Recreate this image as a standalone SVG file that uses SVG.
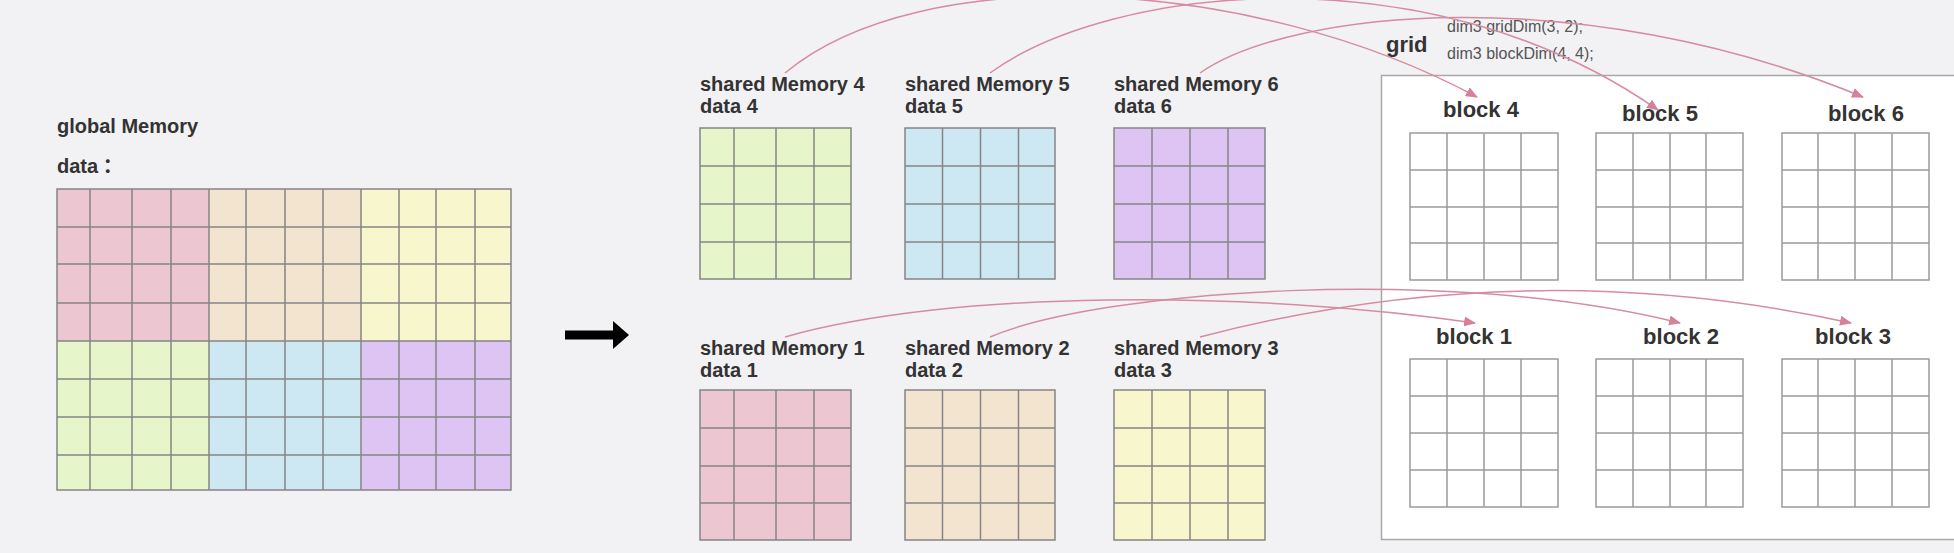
<svg xmlns="http://www.w3.org/2000/svg" width="1954" height="553" viewBox="0 0 1954 553">
<defs>
<style>
.lbl{font-family:"Liberation Sans",Arial,sans-serif;font-weight:bold;fill:#333333}
.code{font-family:"Liberation Sans",Arial,sans-serif;font-size:16px;fill:#555555}
.gl{fill:none;stroke:#858585;stroke-width:1.5}
.bg{fill:none;stroke:#9a9a9a;stroke-width:1.5}
.pink{fill:#ecc6d1}
.peach{fill:#f3e4d0}
.yellow{fill:#f7f6cd}
.green{fill:#e6f6ca}
.blue{fill:#cde8f3}
.purple{fill:#dec4f3}
.conn{fill:none;stroke:#d68ca0;stroke-width:1.5}
</style>
<marker id="ah" markerWidth="12" markerHeight="10" refX="11" refY="5" orient="auto" markerUnits="userSpaceOnUse">
<path d="M0,0 L12,5 L0,10 z" fill="#d6819a"/>
</marker>
</defs>
<rect x="0" y="0" width="1954" height="553" fill="#f2f1f3"/>

<g id="global-memory">
<text class="lbl" x="57" y="133" font-size="20">global Memory</text>
<text class="lbl" x="57" y="173" font-size="20">data<tspan font-family="'Noto Sans CJK SC',sans-serif"> ：</tspan></text>
<rect class="pink" x="57" y="189" width="152" height="152"/>
<rect class="peach" x="209" y="189" width="152" height="152"/>
<rect class="yellow" x="361" y="189" width="150" height="152"/>
<rect class="green" x="57" y="341" width="152" height="149"/>
<rect class="blue" x="209" y="341" width="152" height="149"/>
<rect class="purple" x="361" y="341" width="150" height="149"/>
<path class="gl" d="M90,189V490M132,189V490M171,189V490M209,189V490M246,189V490M285,189V490M323,189V490M361,189V490M399,189V490M436,189V490M475,189V490M57,227H511M57,264H511M57,303H511M57,341H511M57,379H511M57,417H511M57,455H511"/>
<rect class="gl" x="57" y="189" width="454" height="301"/>
</g>

<g id="transfer-arrow">
<rect x="565" y="330.5" width="49" height="9" fill="#000"/>
<path d="M613,321 L629,335 L613,349 z" fill="#000"/>
</g>

<g id="shared-memory-4">
<text class="lbl" x="700" y="91" font-size="20">shared Memory 4</text>
<text class="lbl" x="700" y="113" font-size="20">data 4</text>
<rect class="green" x="700" y="128" width="151" height="151"/>
<path class="gl" d="M734,128V279M776,128V279M814,128V279M700,166H851M700,204H851M700,242H851"/>
<rect class="gl" x="700" y="128" width="151" height="151"/>
</g>
<g id="shared-memory-5">
<text class="lbl" x="905" y="91" font-size="20">shared Memory 5</text>
<text class="lbl" x="905" y="113" font-size="20">data 5</text>
<rect class="blue" x="905" y="128" width="150" height="151"/>
<path class="gl" d="M942.5,128V279M980.5,128V279M1018.5,128V279M905,166H1055M905,204H1055M905,242H1055"/>
<rect class="gl" x="905" y="128" width="150" height="151"/>
</g>
<g id="shared-memory-6">
<text class="lbl" x="1114" y="91" font-size="20">shared Memory 6</text>
<text class="lbl" x="1114" y="113" font-size="20">data 6</text>
<rect class="purple" x="1114" y="128" width="151" height="151"/>
<path class="gl" d="M1152,128V279M1190,128V279M1228,128V279M1114,166H1265M1114,204H1265M1114,242H1265"/>
<rect class="gl" x="1114" y="128" width="151" height="151"/>
</g>
<g id="shared-memory-1">
<text class="lbl" x="700" y="355" font-size="20">shared Memory 1</text>
<text class="lbl" x="700" y="377" font-size="20">data 1</text>
<rect class="pink" x="700" y="390" width="151" height="150"/>
<path class="gl" d="M734,390V540M776,390V540M814,390V540M700,428H851M700,466H851M700,503H851"/>
<rect class="gl" x="700" y="390" width="151" height="150"/>
</g>
<g id="shared-memory-2">
<text class="lbl" x="905" y="355" font-size="20">shared Memory 2</text>
<text class="lbl" x="905" y="377" font-size="20">data 2</text>
<rect class="peach" x="905" y="390" width="150" height="150"/>
<path class="gl" d="M942.5,390V540M980.5,390V540M1018.5,390V540M905,428H1055M905,466H1055M905,503H1055"/>
<rect class="gl" x="905" y="390" width="150" height="150"/>
</g>
<g id="shared-memory-3">
<text class="lbl" x="1114" y="355" font-size="20">shared Memory 3</text>
<text class="lbl" x="1114" y="377" font-size="20">data 3</text>
<rect class="yellow" x="1114" y="390" width="151" height="150"/>
<path class="gl" d="M1152,390V540M1190,390V540M1228,390V540M1114,428H1265M1114,466H1265M1114,503H1265"/>
<rect class="gl" x="1114" y="390" width="151" height="150"/>
</g>

<g id="grid">
<text class="lbl" x="1386" y="52" font-size="22">grid</text>
<text class="code" x="1447" y="32">dim3 gridDim(3, 2);</text>
<text class="code" x="1447" y="59">dim3 blockDim(4, 4);</text>
<rect x="1381.5" y="75.5" width="600" height="464" fill="#ffffff" stroke="#a8a8a8" stroke-width="1.5"/>
</g>

<g id="block-4">
<text class="lbl" x="1481" y="117" font-size="22" text-anchor="middle">block 4</text>
<rect x="1410" y="133" width="148" height="147" fill="#fff"/>
<path class="bg" d="M1447,133V280M1484,133V280M1521,133V280M1410,170H1558M1410,207H1558M1410,243H1558"/>
<rect class="bg" x="1410" y="133" width="148" height="147"/>
</g>
<g id="block-5">
<text class="lbl" x="1660" y="121" font-size="22" text-anchor="middle">block 5</text>
<rect x="1596" y="133" width="147" height="147" fill="#fff"/>
<path class="bg" d="M1633,133V280M1670,133V280M1706,133V280M1596,170H1743M1596,207H1743M1596,243H1743"/>
<rect class="bg" x="1596" y="133" width="147" height="147"/>
</g>
<g id="block-6">
<text class="lbl" x="1866" y="121" font-size="22" text-anchor="middle">block 6</text>
<rect x="1782" y="133" width="147" height="147" fill="#fff"/>
<path class="bg" d="M1818,133V280M1855,133V280M1892,133V280M1782,170H1929M1782,207H1929M1782,243H1929"/>
<rect class="bg" x="1782" y="133" width="147" height="147"/>
</g>
<g id="block-1">
<text class="lbl" x="1474" y="344" font-size="22" text-anchor="middle">block 1</text>
<rect x="1410" y="359" width="148" height="148" fill="#fff"/>
<path class="bg" d="M1447,359V507M1484,359V507M1521,359V507M1410,396H1558M1410,433H1558M1410,470H1558"/>
<rect class="bg" x="1410" y="359" width="148" height="148"/>
</g>
<g id="block-2">
<text class="lbl" x="1681" y="344" font-size="22" text-anchor="middle">block 2</text>
<rect x="1596" y="359" width="147" height="148" fill="#fff"/>
<path class="bg" d="M1633,359V507M1670,359V507M1706,359V507M1596,396H1743M1596,433H1743M1596,470H1743"/>
<rect class="bg" x="1596" y="359" width="147" height="148"/>
</g>
<g id="block-3">
<text class="lbl" x="1853" y="344" font-size="22" text-anchor="middle">block 3</text>
<rect x="1782" y="359" width="147" height="148" fill="#fff"/>
<path class="bg" d="M1818,359V507M1855,359V507M1892,359V507M1782,396H1929M1782,433H1929M1782,470H1929"/>
<rect class="bg" x="1782" y="359" width="147" height="148"/>
</g>

<g id="connectors">
<path class="conn" marker-end="url(#ah)" d="M785,73 C920,-40 1250,-25 1477,97"/>
<path class="conn" marker-end="url(#ah)" d="M990,73 C1110,-15 1430,-50 1658,110"/>
<path class="conn" marker-end="url(#ah)" d="M1200,73 C1290,10 1580,-20 1863,97"/>
<path class="conn" marker-end="url(#ah)" d="M785,337 C950,290 1250,290 1475,323"/>
<path class="conn" marker-end="url(#ah)" d="M990,337 C1100,290 1450,265 1680,323"/>
<path class="conn" marker-end="url(#ah)" d="M1200,337 C1380,290 1600,268 1851,323"/>
</g>
</svg>
